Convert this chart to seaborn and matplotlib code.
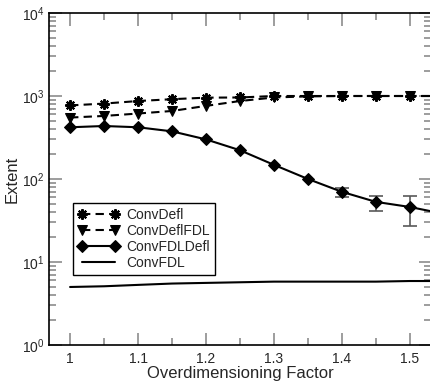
import numpy as np
import pandas as pd
import matplotlib
matplotlib.use("Agg")
import matplotlib.pyplot as plt
import seaborn as sns
from matplotlib.ticker import LogLocator, MultipleLocator, NullFormatter

x = [1.0, 1.05, 1.1, 1.15, 1.2, 1.25, 1.3, 1.35, 1.4, 1.45, 1.5, 1.55]
conv_defl = [770, 810, 870, 915, 955, 960, 1000, 1000, 1000, 1000, 1000, 1000]
conv_defl_fdl = [550, 575, 615, 660, 760, 870, 960, 990, 1000, 1000, 1000, 1000]
conv_fdl_defl = [420, 435, 420, 375, 300, 222, 148, 100, 70, 53, 46, 38]
fdl_err_low = [0, 0, 0, 0, 0, 0, 0, 0, 60, 41, 27, 0]
fdl_err_high = [0, 0, 0, 0, 0, 0, 0, 0, 78, 63, 63, 0]
conv_fdl = [5.0, 5.1, 5.3, 5.5, 5.6, 5.7, 5.8, 5.8, 5.8, 5.8, 5.9, 5.9]

df = pd.DataFrame({"x": x, "ConvDefl": conv_defl, "ConvDeflFDL": conv_defl_fdl,
                   "ConvFDLDefl": conv_fdl_defl, "ConvFDL": conv_fdl})

sns.set_style("ticks")
plt.rcParams["font.family"] = ["Liberation Sans", "DejaVu Sans"]
plt.rcParams["mathtext.fontset"] = "custom"
plt.rcParams["mathtext.rm"] = "Liberation Sans"
plt.rcParams["mathtext.it"] = "Liberation Sans"

fig = plt.figure(figsize=(4.3, 3.88), dpi=100)
ax = fig.add_axes([49 / 430, 1 - 345 / 388, 382 / 430, 332 / 388])

star = (8, 2, 0)
dash = (0, (4, 2.5))
sns.lineplot(data=df, x="x", y="ConvDefl", ax=ax, color="black", linestyle=dash,
             marker=star, markersize=7.5, markeredgewidth=1.5, markeredgecolor="black",
             linewidth=1.5, label="ConvDefl", zorder=3)
sns.lineplot(data=df, x="x", y="ConvDeflFDL", ax=ax, color="black", linestyle=dash,
             marker="v", markersize=7.5, markeredgecolor="black", linewidth=1.5,
             label="ConvDeflFDL", zorder=3)
sns.lineplot(data=df, x="x", y="ConvFDLDefl", ax=ax, color="black", linestyle="-",
             marker="D", markersize=6, markeredgecolor="black", linewidth=1.5,
             label="ConvFDLDefl", zorder=3)
sns.lineplot(data=df, x="x", y="ConvFDL", ax=ax, color="black", linestyle="-",
             linewidth=1.5, label="ConvFDL", zorder=3)

# error bars on ConvFDLDefl
vals = np.array(conv_fdl_defl, dtype=float)
lo = np.array(fdl_err_low, dtype=float)
hi = np.array(fdl_err_high, dtype=float)
mask = hi > 0
ax.errorbar(np.array(x)[mask], vals[mask],
            yerr=[vals[mask] - lo[mask], hi[mask] - vals[mask]],
            fmt="none", ecolor="0.35", elinewidth=1.2, capsize=5, capthick=1.2, zorder=2)

ax.set_yscale("log")
ax.set_ylim(1, 1e4)
ax.set_xlim(0.969, 1.531)
ax.xaxis.set_minor_locator(MultipleLocator(0.05))
ax.set_xticks([1.0, 1.1, 1.2, 1.3, 1.4, 1.5])
ax.set_xticklabels(["1", "1.1", "1.2", "1.3", "1.4", "1.5"])
ax.yaxis.set_major_locator(LogLocator(base=10, numticks=10))
ax.yaxis.set_minor_locator(LogLocator(base=10, subs=np.arange(2, 10), numticks=20))
ax.yaxis.set_minor_formatter(NullFormatter())

ax.tick_params(which="both", direction="in", top=True, right=True, color="0.55",
               labelsize=10, width=1.2)
ax.tick_params(axis="x", which="major", length=9, pad=5)
ax.tick_params(axis="x", which="minor", length=5)
ax.tick_params(axis="y", which="major", length=9, pad=3)
ax.tick_params(axis="y", which="minor", length=5)
for s in ax.spines.values():
    s.set_linewidth(1.2)
    s.set_color("black")

ax.set_xlabel("Overdimensioning Factor", fontsize=12, labelpad=0)
ax.set_ylabel("Extent", fontsize=12, labelpad=2)

leg = ax.legend(loc="upper left", bbox_to_anchor=(0.063, 0.428), borderaxespad=0,
                fancybox=False, edgecolor="black", framealpha=1, fontsize=10,
                numpoints=2, handlelength=3.0, handletextpad=0.5, labelspacing=0.15,
                borderpad=0.35)
leg.get_frame().set_linewidth(1.0)

fig.savefig("out.png", dpi=100)
